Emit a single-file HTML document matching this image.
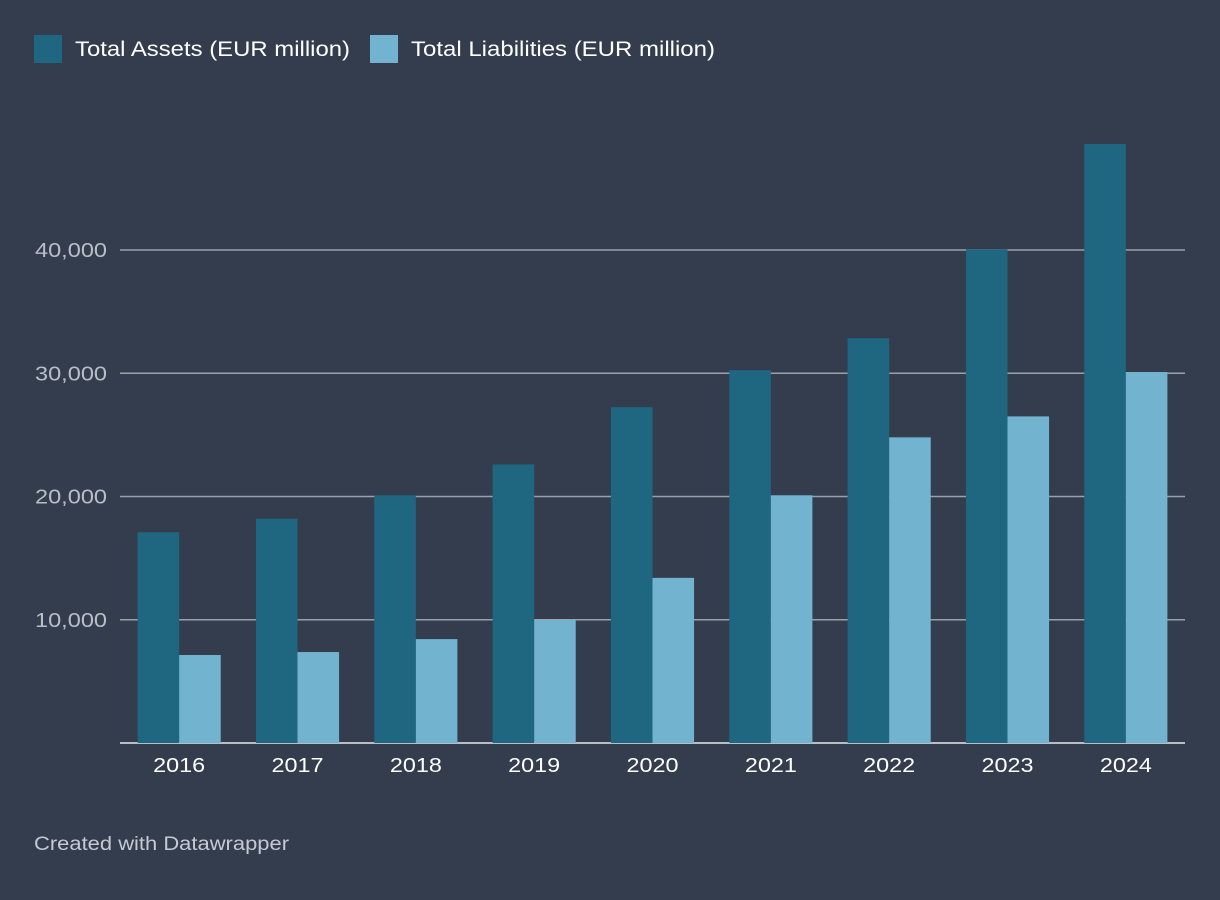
<!DOCTYPE html>
<html><head><meta charset="utf-8"><style>
body{margin:0;background:#333d4e;font-family:"Liberation Sans",sans-serif;}
svg{display:block}
</style></head><body>
<svg id="chart" width="1220" height="900">
<rect width="1220" height="900" fill="#333d4e"/>
<g>
<rect x="34" y="35" width="28" height="28" fill="#1f6680"/>
<text x="75" y="56" fill="#ffffff" font-size="21" textLength="275" lengthAdjust="spacingAndGlyphs">Total Assets (EUR million)</text>
<rect x="370" y="35" width="28" height="28" fill="#72b3cf"/>
<text x="411" y="56" fill="#ffffff" font-size="21" textLength="304" lengthAdjust="spacingAndGlyphs">Total Liabilities (EUR million)</text>
</g>
<g id="grid"></g><g id="bars"></g><g id="xlabels"></g>
<text x="34" y="850" fill="#c5cad1" font-size="19" textLength="255" lengthAdjust="spacingAndGlyphs">Created with Datawrapper</text>
</svg>
<script>
const categories=["2016","2017","2018","2019","2020","2021","2022","2023","2024"];
const assets=[17100,18200,20100,22600,27250,30250,32850,40050,48600];
const liabilities=[7140,7380,8430,9980,13400,20100,24800,26500,30100];
const yTicks=[10000,20000,30000,40000];
const yTickLabels=["10,000","20,000","30,000","40,000"];
const NS="http://www.w3.org/2000/svg";
const x0=120,x1=1185,base=743,pxPer=(743-250)/40000;
const band=(x1-x0)/categories.length,pad=17.6,bw=(band-2*pad)/2;
const y=v=>base-v*pxPer;
function mk(t,a,p){const e=document.createElementNS(NS,t);for(const k in a)e.setAttribute(k,a[k]);p.appendChild(e);return e;}
const grid=document.getElementById('grid'),bars=document.getElementById('bars'),xl=document.getElementById('xlabels');
yTicks.forEach((v,i)=>{
 const l=mk('line',{x1:x0,x2:x1,y1:y(v),y2:y(v),stroke:'#9aa1aa','stroke-width':1.5},grid);
 
 
 const t=mk('text',{x:x0-13,y:y(v)+7,fill:'#b9bec6','font-size':20,'text-anchor':'end',textLength:72,lengthAdjust:'spacingAndGlyphs'},grid);
 t.textContent=yTickLabels[i];
 
 
});
categories.forEach((c,i)=>{
 const gx=x0+i*band+pad;
 const a=mk('rect',{x:gx,y:y(assets[i]),width:bw,height:base-y(assets[i]),fill:'#1f6680'},bars);
 
 
 const b=mk('rect',{x:gx+bw,y:y(liabilities[i]),width:bw,height:base-y(liabilities[i]),fill:'#72b3cf'},bars);
 
 
 const t=mk('text',{x:gx+bw-26,y:772,fill:'#ffffff','font-size':20,textLength:52,lengthAdjust:'spacingAndGlyphs'},xl);
 t.textContent=c;
 
 
});
const ax=mk('line',{x1:x0,x2:x1,y1:base,y2:base,stroke:'#b9bec6','stroke-width':2},grid);


</script>
</body></html>
